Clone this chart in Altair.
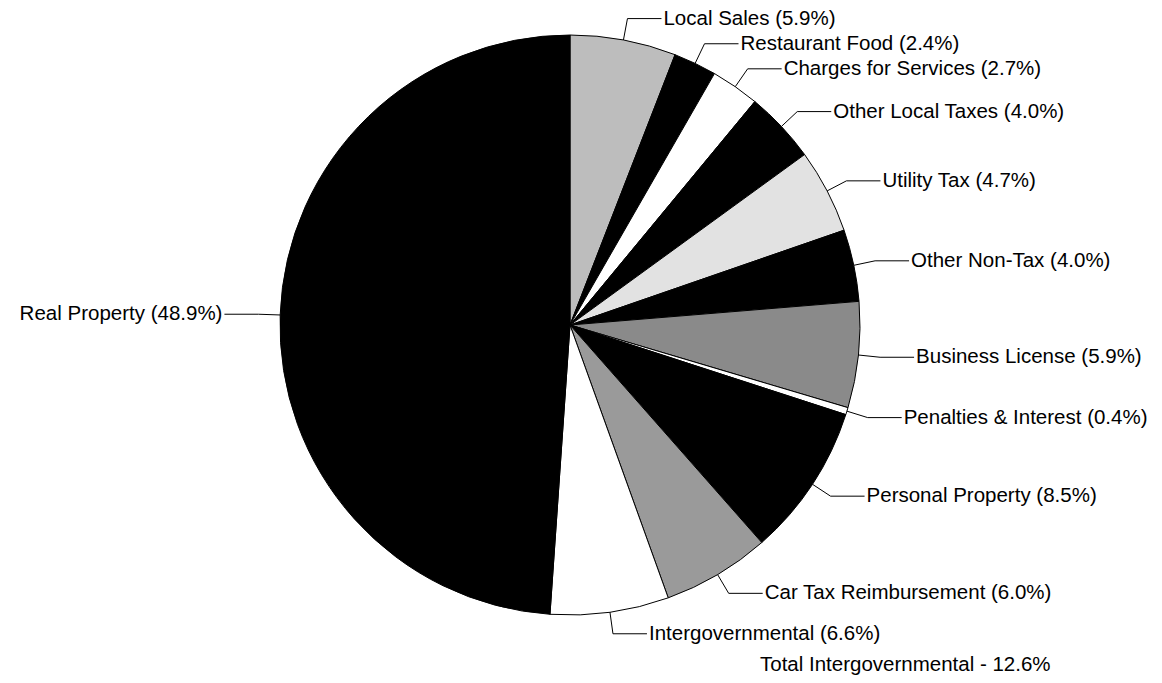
import altair as alt
import numpy as np
import pandas as pd

# ---- data ----
categories = ["Local Sales", "Restaurant Food", "Charges for Services", "Other Local Taxes",
              "Utility Tax", "Other Non-Tax", "Business License", "Penalties & Interest",
              "Personal Property", "Car Tax Reimbursement", "Intergovernmental", "Real Property"]
percents = [5.9, 2.4, 2.7, 4.0, 4.7, 4.0, 5.9, 0.4, 8.5, 6.0, 6.6, 48.9]
fills = ["#bdbdbd", "#000000", "#ffffff", "#000000", "#e2e2e2", "#000000",
         "#8a8a8a", "#ffffff", "#000000", "#9a9a9a", "#ffffff", "#000000"]
note = "Total Intergovernmental - 12.6%"

# ---- layout ----
W, H = 1162, 683
CX, CY, R = 570, 325, 290
ELBOW = 1.075      # leader elbow radius (in pie radii)
HOOK = 34          # horizontal leader length in px
GAP = 2
FONT = "Liberation Sans"
FS = 20.5

df = pd.DataFrame({"category": categories, "pct": percents, "fill": fills})
df["order"] = np.arange(len(df))
df["label"] = [f"{c} ({p:.1f}%)" for c, p in zip(categories, percents)]

pct = np.array(percents)
mid = (np.cumsum(pct) - pct / 2) / 100 * 2 * np.pi  # clockwise from 12 o'clock
sx, sy = np.sin(mid), np.cos(mid)
side = np.where(sx >= 0, 1, -1)
df["side"] = np.where(side > 0, "right", "left")

rows = []
for i, lab in enumerate(df["label"]):
    x0, y0 = sx[i], sy[i]
    x1, y1 = ELBOW * sx[i], ELBOW * sy[i]
    x2, y2 = x1 + side[i] * HOOK / R, y1
    for k, (x, y) in enumerate([(x0, y0), (x1, y1), (x2, y2)]):
        rows.append({"label": lab, "step": k, "x": x, "y": y})
lines = pd.DataFrame(rows)

df["tx"] = ELBOW * sx + side * (HOOK + GAP) / R
df["ty"] = ELBOW * sy

xs = alt.Scale(domain=[-CX / R, (W - CX) / R], range=[0, W], nice=False, zero=False)
ys = alt.Scale(domain=[(CY - H) / R, CY / R], range=[H, 0], nice=False, zero=False)

pie = alt.Chart(df).mark_arc(radius=R, stroke="black", strokeWidth=1).encode(
    theta=alt.Theta("pct:Q", stack=True),
    order=alt.Order("order:Q"),
    color=alt.Color("fill:N", scale=None, legend=None),
    x=alt.value(CX),
    y=alt.value(CY),
)

leaders = alt.Chart(lines).mark_line(color="black", strokeWidth=1).encode(
    x=alt.X("x:Q", scale=xs, axis=None),
    y=alt.Y("y:Q", scale=ys, axis=None),
    detail="label:N",
    order="step:Q",
)

text_r = alt.Chart(df).transform_filter(alt.datum.side == "right").mark_text(
    align="left", baseline="middle", font=FONT, fontSize=FS, color="black"
).encode(
    x=alt.X("tx:Q", scale=xs, axis=None),
    y=alt.Y("ty:Q", scale=ys, axis=None),
    text="label:N",
)

text_l = alt.Chart(df).transform_filter(alt.datum.side == "left").mark_text(
    align="right", baseline="middle", font=FONT, fontSize=FS, color="black"
).encode(
    x=alt.X("tx:Q", scale=xs, axis=None),
    y=alt.Y("ty:Q", scale=ys, axis=None),
    text="label:N",
)

note_text = alt.Chart(pd.DataFrame({"t": [note]})).mark_text(
    align="left", baseline="middle", font=FONT, fontSize=FS, color="black"
).encode(x=alt.value(760), y=alt.value(665), text="t:N")

chart = alt.layer(pie, leaders, text_r, text_l, note_text).properties(
    width=W, height=H, padding=0, autosize=alt.AutoSizeParams(type="none"),
    background="white",
).configure_view(stroke=None)

chart.save("out.html", embed_options={"renderer": "svg", "actions": False})
